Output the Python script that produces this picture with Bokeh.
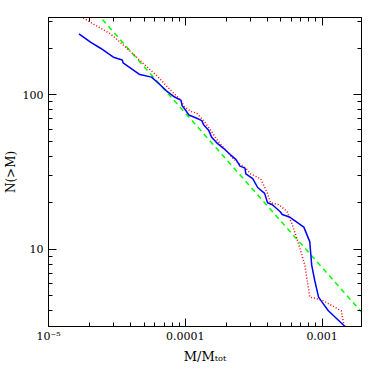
import math
from bokeh.plotting import figure
from bokeh.models import Range1d, LogAxis, FixedTicker, CustomJSTickFormatter
from bokeh.embed import file_html
from bokeh.resources import INLINE

# ---- data ----
blue_m = [1.67e-5, 2.04e-5, 2.40e-5, 2.98e-5, 3.46e-5, 3.51e-5, 4.65e-5, 5.67e-5, 6.48e-5, 7.27e-5,
          8.30e-5, 9.31e-5, 9.47e-5, 1.01e-4, 1.06e-4, 1.19e-4, 1.32e-4, 1.36e-4, 1.48e-4, 1.56e-4,
          1.69e-4, 1.90e-4, 2.13e-4, 2.35e-4, 2.51e-4, 2.73e-4, 2.77e-4, 3.11e-4, 3.38e-4, 3.80e-4,
          3.99e-4, 4.33e-4, 4.94e-4, 5.11e-4, 5.83e-4, 7.35e-4, 8.12e-4, 8.39e-4, 8.82e-4, 9.42e-4,
          9.90e-4, 1.11e-3, 1.45e-3, 1.57e-3]
blue_n = [248, 218, 200, 175, 168, 161, 135, 130, 117, 106,
          97, 92, 85, 79, 74, 71, 68, 64, 59, 53,
          49, 45, 41, 38, 34.5, 33.5, 30.7, 28.6, 25.1, 23.0,
          20.0, 19.4, 17.5, 16.8, 16.1, 13.9, 11.2, 7.9, 6.3, 4.9,
          4.6, 4.0, 3.2, 3.0]

red_m = [1.59e-5, 1.78e-5, 2.14e-5, 2.83e-5, 3.75e-5, 5.05e-5, 6.26e-5, 7.89e-5, 9.31e-5, 9.79e-5,
         1.10e-4, 1.21e-4, 1.36e-4, 1.53e-4, 1.69e-4, 1.96e-4, 2.24e-4, 2.51e-4, 2.77e-4, 3.01e-4,
         3.55e-4, 3.99e-4, 4.19e-4, 4.86e-4, 5.55e-4, 6.03e-4, 6.55e-4, 7.48e-4, 8.12e-4, 9.90e-4,
         1.38e-3, 1.45e-3, 1.52e-3]
red_n = [340, 316, 286, 248, 200, 156, 131.5, 106, 92, 84,
         78, 76, 68, 59, 51.6, 44, 38.7, 35.5, 33.5, 30.7,
         28.6, 23.0, 20.0, 19.4, 17.5, 14.5, 11.7, 7.9, 4.9, 4.7,
         4.0, 3.16, 2.78]

fit_m = [1.5e-5, 2.5e-3]
fit_n = [507, 3.04]

x_major = [1e-5, 1e-4, 1e-3]
x_major_labels = ["10\u207b\u2075", "0.0001", "0.001"]
x_minor = [2e-5, 3e-5, 4e-5, 5e-5, 6e-5, 7e-5, 8e-5, 9e-5,
           2e-4, 3e-4, 4e-4, 5e-4, 6e-4, 7e-4, 8e-4, 9e-4]
y_major = [10, 100]
y_major_labels = ["10", "100"]
y_minor = [4, 5, 6, 7, 8, 9, 20, 30, 40, 50, 60, 70, 80, 90, 200, 300]

x_title = "M/M\u209c\u2092\u209c"
y_title = "N(>M)"

x_lo, x_hi = 1e-5, 1.94e-3
y_lo, y_hi = 3.162, 316.2

FONT = "DejaVu Serif"

p = figure(width=366, height=366, x_axis_type="log", y_axis_type="log",
           x_range=Range1d(x_lo, x_hi), y_range=Range1d(y_lo, y_hi),
           output_backend="svg", toolbar_location=None,
           min_border_left=42, min_border_right=5, min_border_top=17, min_border_bottom=34)
p.grid.visible = False
p.outline_line_color = "black"
p.outline_line_width = 1
p.background_fill_color = "white"
p.border_fill_color = "white"

def style_axis(ax, major, minor, labels=None):
    ax.ticker = FixedTicker(ticks=major, minor_ticks=minor)
    ax.major_tick_in = 8
    ax.major_tick_out = 0
    ax.minor_tick_in = 4
    ax.minor_tick_out = 0
    ax.major_tick_line_color = "black"
    ax.minor_tick_line_color = "black"
    ax.axis_line_color = "black"
    if labels is None:
        ax.formatter = CustomJSTickFormatter(code="return ' ';")
        ax.major_label_text_font_size = "1px"
        ax.major_label_text_color = None
        ax.major_label_standoff = 0
    else:
        ax.formatter = CustomJSTickFormatter(
            args=dict(vals=major, labs=labels),
            code="""
            for (let i = 0; i < vals.length; i++) {
                if (Math.abs(Math.log10(tick) - Math.log10(vals[i])) < 1e-6) return labs[i];
            }
            return '';
            """)
        ax.major_label_text_font = FONT
        ax.major_label_text_font_size = "11px"
        ax.major_label_text_color = "black"
        ax.axis_label_text_font = FONT
        ax.axis_label_text_font_style = "normal"
        ax.axis_label_text_color = "black"

style_axis(p.xaxis[0], x_major, x_minor, x_major_labels)
p.xaxis[0].major_label_standoff = 3
p.xaxis[0].axis_label = x_title
p.xaxis[0].axis_label_text_font_size = "13px"
p.xaxis[0].axis_label_standoff = 3

style_axis(p.yaxis[0], y_major, y_minor, y_major_labels)
p.yaxis[0].major_label_standoff = 5
p.yaxis[0].axis_label = y_title
p.yaxis[0].axis_label_text_font_size = "12px"
p.yaxis[0].axis_label_standoff = 2

top = LogAxis()
style_axis(top, x_major, x_minor)
p.add_layout(top, "above")
right = LogAxis()
style_axis(right, y_major, y_minor)
p.add_layout(right, "right")

p.line(fit_m, fit_n, line_color="#00ff00", line_width=1.5, line_dash="5 4")
p.line(red_m, red_n, line_color="#ff0000", line_width=1.5, line_dash="1 2")
p.line(blue_m, blue_n, line_color="#0000ff", line_width=1.5)

open("out.html", "w").write(file_html(p, INLINE))
